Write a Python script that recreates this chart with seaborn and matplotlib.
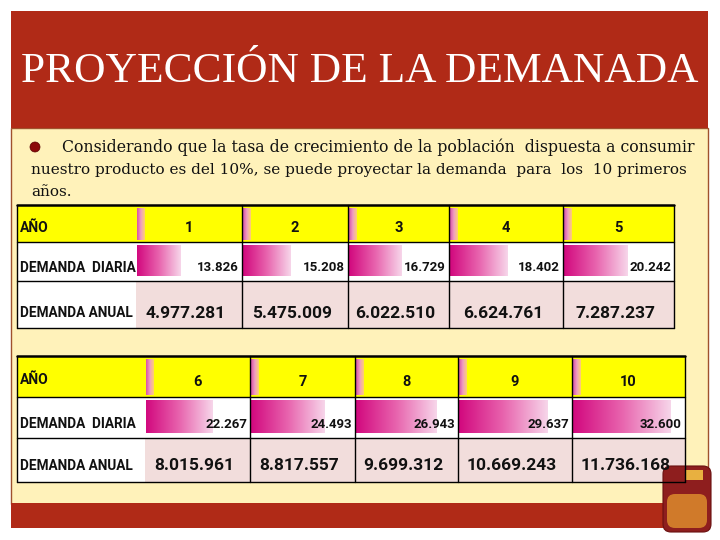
import numpy as np
import matplotlib
matplotlib.use("Agg")
import matplotlib.pyplot as plt
import seaborn as sns
from matplotlib.colors import LinearSegmentedColormap
from matplotlib.patches import Rectangle, Circle, FancyBboxPatch

# Datos de la tabla
anios = [1, 2, 3, 4, 5, 6, 7, 8, 9, 10]
demanda_diaria = [13826, 15208, 16729, 18402, 20242, 22267, 24493, 26943, 29637, 32600]
demanda_anual = [4977281, 5475009, 6022510, 6624761, 7287237,
                 8015961, 8817557, 9699312, 10669243, 11736168]
etiquetas_filas = ["AÑO", "DEMANDA  DIARIA", "DEMANDA ANUAL"]

titulo = "PROYECCIÓN DE LA DEMANADA"
texto = ["Considerando que la tasa de crecimiento de la población  dispuesta a consumir",
         "nuestro producto es del 10%, se puede proyectar la demanda  para  los  10 primeros",
         "años."]

sns.set_style("white")
plt.rcParams["font.family"] = ["Roboto", "DejaVu Sans"]

W, H = 720, 540
fig = plt.figure(figsize=(7.2, 5.4), dpi=100)
bg = fig.add_axes([0, 0, 1, 1])
top = fig.add_axes([0, 0, 1, 1])
for a in (bg, top):
    a.set_xlim(0, W)
    a.set_ylim(H, 0)
    a.axis("off")
top.set_zorder(10)
top.patch.set_alpha(0)


def fig_rect(x0, y0, x1, y1):
    return [x0 / W, 1 - y1 / H, (x1 - x0) / W, (y1 - y0) / H]


def miles(v):
    return f"{v:,}".replace(",", ".")


# Fondo de la diapositiva
bg.add_patch(Rectangle((11, 128), 697, 376, facecolor="#FFF2BA", edgecolor="#A0522D", lw=1.0))
bg.add_patch(Rectangle((11, 11), 697, 117, facecolor="#B02A17", edgecolor="none"))
bg.add_patch(Rectangle((11, 503), 697, 25, facecolor="#B02A17", edgecolor="none"))
bg.text(360, 72, titulo, color="white", fontsize=31.3, ha="center", va="center",
        family=["Liberation Serif", "DejaVu Serif"])

# Texto con viñeta
bg.add_patch(Circle((35, 147), 5, facecolor="#8B0A0A", edgecolor="#5A0000", lw=0.5))
serif = ["DejaVu Serif", "Liberation Serif"]
bg.text(62, 147, texto[0], fontsize=11.3, va="center", family=serif, color="#111111")
bg.text(31, 170, texto[1], fontsize=11.0, va="center", family=serif, color="#111111")
bg.text(31, 192, texto[2], fontsize=11.0, va="center", family=serif, color="#111111")

cmap_barra = LinearSegmentedColormap.from_list("barra", ["#D2087E", "#E864AE", "#F7D6EA"])
cmap_cab = LinearSegmentedColormap.from_list("cab", ["#D850A8", "#F0A0C0", "#FFD070"])
grad = np.linspace(0, 1, 256).reshape(1, -1)

tablas = [
    dict(cols=[17, 136, 242, 348, 449, 563, 674], rows=[205, 242, 281, 328],
         ppu=3.2, idx=slice(0, 5), off=[4, 6, 8.5]),
    dict(cols=[17, 145, 250, 355, 458, 572, 685], rows=[356, 397, 438, 482],
         ppu=3.05, idx=slice(5, 10), off=[4, 6.5, 6]),
]
tam_filas = [10, 9.8, 9.8]

for t in tablas:
    c, r, off = t["cols"], t["rows"], t["off"]
    ys = anios[t["idx"]]
    dd = demanda_diaria[t["idx"]]
    da = demanda_anual[t["idx"]]
    # celdas de fondo
    bg.add_patch(Rectangle((c[0], r[0]), c[-1] - c[0], r[1] - r[0], facecolor="#FFFF00", edgecolor="none"))
    bg.add_patch(Rectangle((c[0], r[1]), c[-1] - c[0], r[3] - r[1], facecolor="white", edgecolor="none"))
    bg.add_patch(Rectangle((c[1], r[2]), c[-1] - c[1], r[3] - r[2], facecolor="#F2DDDC", edgecolor="none"))
    # lineas de la tabla
    for k, yy in enumerate(r):
        top.plot([c[0], c[-1]], [yy, yy], color="black", lw=1.8 if k == 0 else 1.0)
    for k, xx in enumerate(c):
        if k == 1:
            continue
        top.plot([xx, xx], [r[0], r[-1]], color="black", lw=1.0)
    # etiquetas de filas
    for k, lab in enumerate(etiquetas_filas):
        top.text(c[0] + 3, (r[k] + r[k + 1]) / 2 + off[k], lab, fontsize=tam_filas[k],
                 fontweight="bold", ha="left", va="center", color="#111111")
    for j in range(5):
        x0, x1 = c[j + 1], c[j + 2]
        # franja degradada de la cabecera
        bg.imshow(grad, extent=[x0 + 1, x0 + 9, r[1] - 2, r[0] + 3], cmap=cmap_cab,
                  aspect="auto", zorder=3)
        top.text((x0 + x1) / 2, (r[0] + r[1]) / 2 + 5, str(ys[j]), fontsize=10.5,
                 fontweight="bold", ha="center", va="center", color="#111111")
        # barra de datos
        cax = fig.add_axes(fig_rect(x0 + 1, r[1] + 3, x1 - 1, r[2] - 5))
        sns.barplot(x=[dd[j] / 1000], y=[0], orient="h", width=1.0, color="#E864AE", ax=cax)
        cax.set_xlim(0, (x1 - x0) / t["ppu"])
        cax.set_ylim(0.5, -0.5)
        cax.axis("off")
        cax.patch.set_alpha(0)
        barra = cax.patches[0]
        img = cax.imshow(grad, extent=[0, dd[j] / 1000, 0.5, -0.5], cmap=cmap_barra,
                         aspect="auto", zorder=3)
        img.set_clip_path(barra)
        top.text(x1 - 3, (r[1] + r[2]) / 2 + off[1], miles(dd[j]), fontsize=9.5, fontweight="bold",
                 ha="right", va="center", color="#111111")
        top.text((x0 + x1) / 2 - 3, (r[2] + r[3]) / 2 + off[2], miles(da[j]), fontsize=12.5,
                 fontweight="bold", ha="center", va="center", color="#111111")

# envase del producto (decorativo)
bg.add_patch(FancyBboxPatch((663, 466), 48, 66, boxstyle="round,pad=0,rounding_size=8",
                            facecolor="#8E1E1E", edgecolor="#6A1010", lw=0.8, zorder=7))
bg.add_patch(FancyBboxPatch((667, 494), 40, 34, boxstyle="round,pad=0,rounding_size=8",
                            facecolor="#D07A2A", edgecolor="none", zorder=8))
bg.add_patch(Rectangle((685, 470), 18, 10, facecolor="#E8B040", edgecolor="none", zorder=8))

fig.savefig("out.png", dpi=100)
